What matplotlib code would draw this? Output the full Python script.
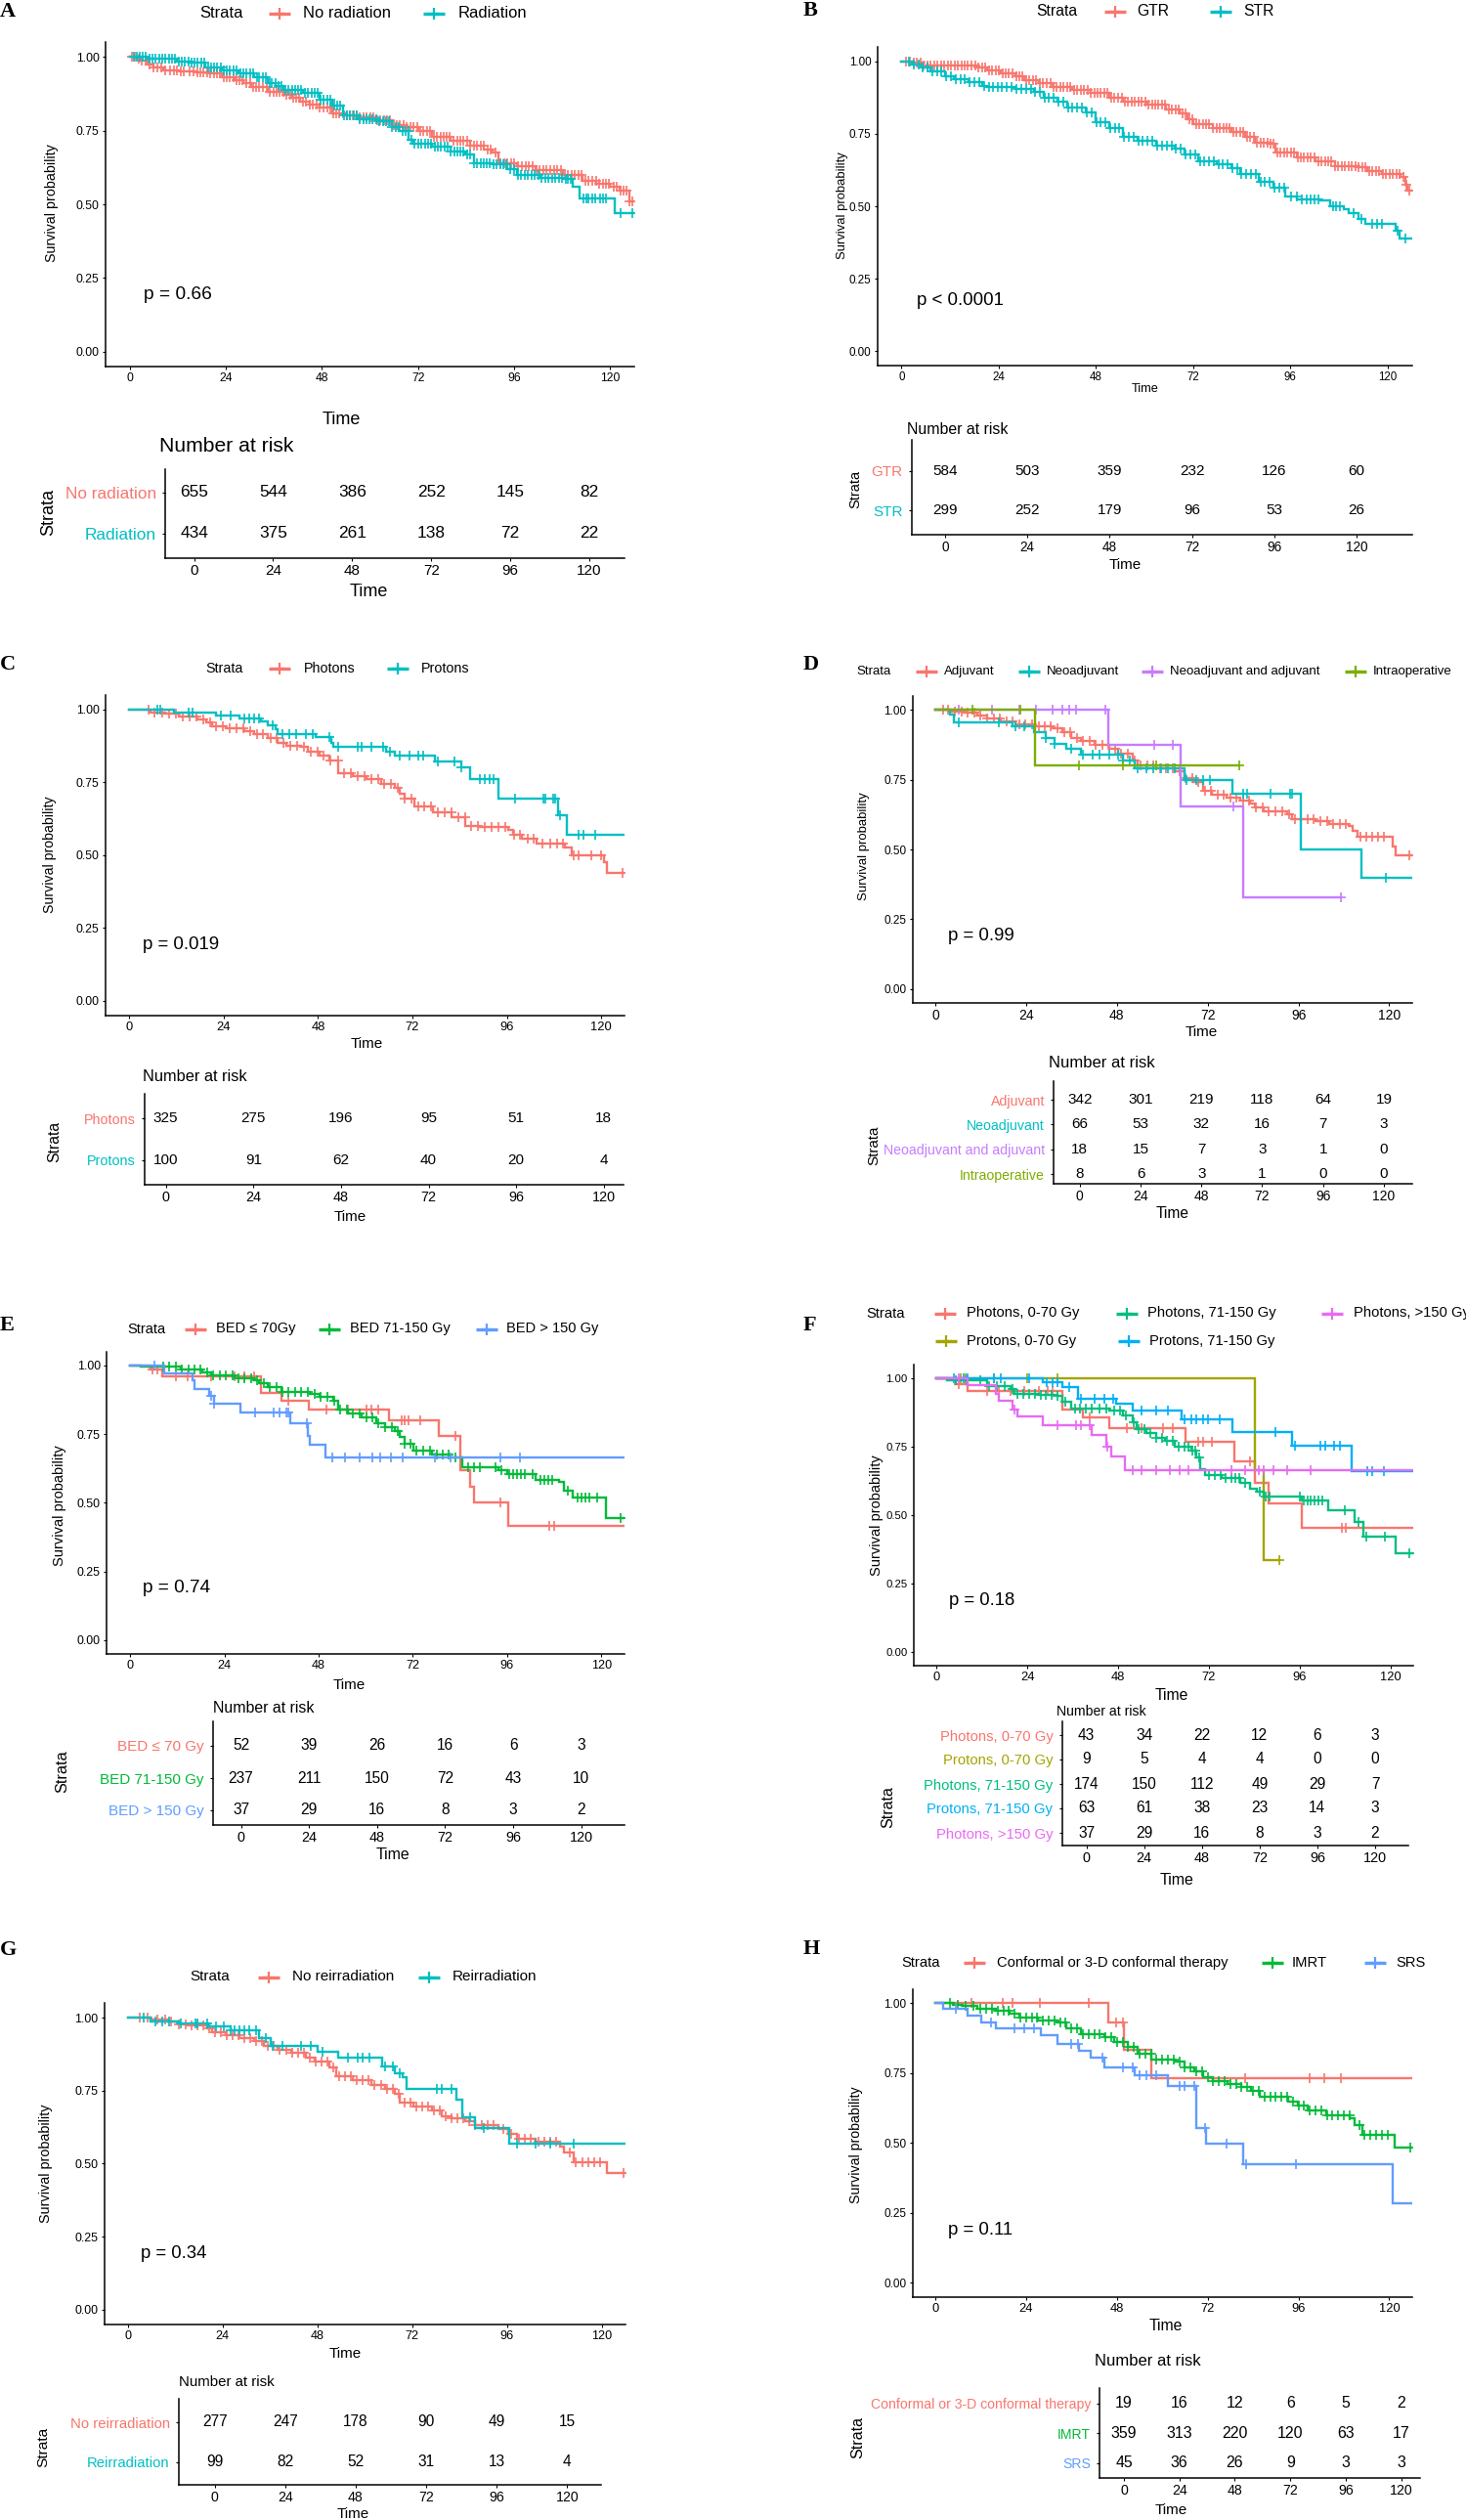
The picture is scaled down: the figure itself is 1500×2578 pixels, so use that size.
import numpy as np
import matplotlib
matplotlib.use('Agg')
import matplotlib.pyplot as plt
from matplotlib.lines import Line2D

plt.rcParams['font.family'] = ['Liberation Sans', 'DejaVu Sans']

# ---------------------------------------------------------------- data
TIME_BREAKS = [0, 24, 48, 72, 96, 120]

# Panel A
A_labels = ['No radiation', 'Radiation']
A_norad_t = [1.5, 2.8, 4.5, 6.0, 8.4, 12.5, 16.6, 19.8, 23.1, 26.3, 28.5, 30.4, 34.5, 38.5, 40.5, 42.6, 45.0, 47.5, 50.7, 54.0,
             57.2, 61.3, 65.4, 68.5, 72.0, 75.5, 80.2, 84.9, 88.5, 90.7, 92.0, 96.6, 101.3, 108.3, 113.0, 116.5, 120.0, 122.4, 124.7]
A_norad_s = [0.993, 0.986, 0.975, 0.965, 0.953, 0.95, 0.948, 0.943, 0.932, 0.92, 0.91, 0.899, 0.882, 0.871, 0.86, 0.849, 0.838, 0.827, 0.807, 0.80,
             0.794, 0.785, 0.77, 0.762, 0.75, 0.73, 0.715, 0.70, 0.685, 0.675, 0.64, 0.63, 0.615, 0.60, 0.58, 0.57, 0.56, 0.545, 0.51]
A_norad_c = [0.5, 1.3, 2.2, 3.0, 3.9, 5.1, 6.0, 7.0, 7.9, 8.8, 10.1, 11.0, 11.9, 12.8, 13.6, 15.0, 15.9, 16.9, 17.6, 18.3,
             19.3, 20.2, 21.0, 21.7, 22.6, 23.5, 24.3, 25.0, 25.9, 26.8, 27.5, 28.2, 29.1, 30.0, 30.8, 31.6, 32.4, 33.3, 34.2, 35.1,
             35.9, 36.6, 37.4, 38.3, 39.1, 40.0, 40.9, 41.7, 42.4, 43.2, 44.1, 45.1, 45.8, 46.6, 47.5, 48.4, 49.3, 50.1, 50.8, 51.5,
             52.4, 53.4, 54.2, 55.0, 55.8, 56.6, 57.5, 58.4, 59.2, 60.0, 60.9, 61.8, 62.6, 63.5, 64.2, 65.0, 65.9, 66.8, 67.5, 68.3,
             69.2, 70.1, 70.9, 71.8, 72.6, 73.4, 74.3, 75.1, 75.9, 76.7, 77.6, 78.5, 79.2, 80.0, 80.9, 81.8, 82.5, 83.3, 84.2, 85.1,
             86.0, 86.8, 87.6, 88.4, 89.3, 90.1, 91.4, 92.6, 93.5, 94.4, 95.2, 96.0, 97.0, 97.9, 98.8, 99.6, 100.6, 101.5, 102.4, 103.2,
             104.1, 105.0, 105.9, 106.7, 107.6, 108.6, 109.4, 110.3, 111.2, 112.0, 112.9, 113.8, 114.6, 115.5, 116.4, 117.2, 118.1, 119.0,
             119.7, 120.8, 121.6, 122.5, 123.2, 124.0, 124.8, 125.5]
A_norad_end = 126
A_rad_t = [4.4, 11.7, 15.0, 19.0, 23.0, 27.1, 31.2, 34.5, 36.5, 38.5, 43.4, 47.5, 50.7, 53.2, 57.2, 62.1, 65.4, 67.3, 69.7, 70.8,
           75.5, 80.2, 83.7, 86.0, 90.7, 94.3, 96.6, 102.5, 108.3, 110.7, 112.4, 121.2]
A_rad_s = [0.995, 0.985, 0.979, 0.965, 0.953, 0.943, 0.932, 0.91, 0.90, 0.887, 0.877, 0.855, 0.833, 0.80, 0.788, 0.781, 0.761, 0.75, 0.72, 0.705,
           0.695, 0.68, 0.67, 0.64, 0.635, 0.62, 0.60, 0.59, 0.585, 0.56, 0.52, 0.47]
A_rad_c = [1.0, 1.8, 2.6, 3.3, 4.0, 4.9, 5.8, 6.5, 7.3, 8.1, 8.9, 9.8, 10.6, 11.4, 12.2, 13.0, 13.8, 14.7, 15.5, 16.2,
           17.0, 17.8, 18.6, 19.5, 20.3, 21.1, 21.9, 22.8, 23.6, 24.3, 25.1, 25.9, 26.7, 27.6, 28.4, 29.2, 30.0, 30.9, 31.7, 32.4,
           33.2, 34.1, 34.9, 35.6, 36.4, 37.2, 38.0, 38.9, 39.7, 40.5, 41.3, 42.1, 42.9, 43.7, 44.5, 45.4, 46.2, 47.0, 47.8, 48.5,
           49.3, 50.2, 51.0, 51.8, 52.6, 53.5, 54.3, 55.1, 55.9, 56.7, 57.5, 58.3, 59.1, 59.9, 60.7, 61.6, 62.4, 63.2, 64.0, 64.8,
           65.6, 66.4, 67.2, 68.1, 68.9, 69.6, 70.3, 71.2, 72.1, 72.9, 73.7, 74.5, 75.3, 76.2, 77.0, 77.8, 78.6, 79.4, 80.2, 81.0,
           81.8, 82.6, 83.4, 84.3, 85.1, 86.0, 86.8, 87.6, 88.4, 89.2, 90.0, 90.9, 91.7, 92.5, 93.3, 94.1, 95.0, 95.9, 96.9, 97.7,
           98.6, 99.4, 100.3, 101.1, 102.0, 102.9, 103.8, 104.6, 105.4, 106.3, 107.1, 108.0, 108.8, 109.5, 110.1, 113.4, 114.0, 114.6,
           115.4, 116.2, 117.5, 118.3, 119.0, 122.7, 125.6]
A_rad_end = 126
A_risk_norad = [655, 544, 386, 252, 145, 82]
A_risk_rad = [434, 375, 261, 138, 72, 22]
A_pval = 'p = 0.66'

# Panel B
B_labels = ['GTR', 'STR']
B_gtr_t = [2.6, 5.0, 18.8, 21.0, 24.6, 28.0, 30.4, 33.9, 37.3, 42.0, 46.6, 51.2, 54.7, 60.5, 65.2, 68.6, 70.5, 72.1, 76.8, 81.4,
           84.9, 87.2, 90.7, 92.4, 97.6, 102.3, 106.9, 112.7, 115.0, 118.5, 123.1, 124.3, 124.9]
B_gtr_s = [0.995, 0.985, 0.98, 0.97, 0.96, 0.95, 0.935, 0.925, 0.91, 0.90, 0.89, 0.875, 0.86, 0.85, 0.835, 0.82, 0.80, 0.785, 0.77, 0.755,
           0.74, 0.72, 0.715, 0.685, 0.67, 0.655, 0.64, 0.635, 0.62, 0.61, 0.60, 0.575, 0.555]
B_gtr_c = [1.2, 2.1, 3.0, 3.8, 4.6, 5.5, 6.4, 7.2, 8.1, 8.9, 9.7, 10.6, 11.5, 12.3, 13.1, 14.0, 14.8, 15.6, 16.4, 17.3,
           18.2, 19.0, 19.9, 20.7, 21.5, 22.4, 23.2, 24.0, 24.9, 25.7, 26.5, 27.4, 28.3, 29.1, 29.9, 30.8, 31.6, 32.5, 33.3, 34.1,
           34.9, 35.8, 36.7, 37.5, 38.3, 39.2, 40.0, 40.8, 41.7, 42.5, 43.3, 44.2, 45.1, 45.9, 46.7, 47.6, 48.4, 49.2, 50.0, 50.9,
           51.8, 52.6, 53.4, 54.3, 55.1, 55.9, 56.8, 57.6, 58.4, 59.3, 60.1, 60.9, 61.8, 62.6, 63.4, 64.3, 65.1, 65.9, 66.8, 67.7,
           68.5, 69.3, 70.1, 71.0, 71.9, 72.7, 73.5, 74.4, 75.2, 76.0, 76.9, 77.7, 78.5, 79.4, 80.2, 81.0, 81.9, 82.7, 83.6, 84.4,
           85.2, 86.0, 86.9, 87.7, 88.6, 89.4, 90.3, 91.1, 91.9, 92.8, 93.6, 94.4, 95.3, 96.1, 96.9, 97.8, 98.6, 99.4, 100.3, 101.1,
           102.0, 102.8, 103.6, 104.5, 105.3, 106.1, 107.0, 107.8, 108.7, 109.5, 110.3, 111.2, 112.0, 112.9, 113.7, 114.5, 115.4, 116.2,
           117.1, 117.9, 118.8, 119.6, 120.5, 121.3, 122.2, 123.0, 123.8, 124.6, 125.4]
B_gtr_end = 126
B_str_t = [2.6, 4.9, 7.2, 10.7, 13.0, 16.5, 20.0, 21.0, 28.0, 32.7, 35.0, 38.5, 40.8, 45.4, 47.8, 51.2, 54.7, 58.2, 62.8, 67.5,
           69.8, 73.3, 77.9, 81.4, 83.7, 88.3, 91.8, 94.7, 97.6, 103.4, 105.7, 109.2, 110.4, 112.7, 114.4, 122.0, 122.9]
B_str_s = [0.99, 0.98, 0.965, 0.95, 0.94, 0.93, 0.915, 0.91, 0.905, 0.895, 0.875, 0.86, 0.84, 0.825, 0.79, 0.77, 0.74, 0.725, 0.71, 0.70,
           0.68, 0.655, 0.645, 0.63, 0.61, 0.585, 0.565, 0.535, 0.525, 0.52, 0.50, 0.49, 0.475, 0.455, 0.44, 0.415, 0.39]
B_str_c = [1.8, 3.0, 4.2, 5.2, 6.3, 7.5, 8.7, 9.8, 10.9, 12.2, 13.4, 14.5, 15.6, 16.8, 17.9, 19.1, 20.4, 21.5, 22.6, 23.7,
           24.8, 26.0, 27.2, 28.4, 29.5, 30.7, 31.9, 33.0, 34.2, 35.3, 36.4, 37.6, 38.8, 40.0, 41.1, 42.2, 43.4, 44.6, 45.8, 46.9,
           48.1, 49.2, 50.3, 51.5, 52.7, 53.8, 55.0, 56.1, 57.3, 58.4, 59.6, 60.7, 61.9, 63.1, 64.3, 65.4, 66.6, 67.7, 68.9, 70.0,
           71.2, 72.4, 73.6, 74.7, 75.8, 77.0, 78.2, 79.3, 80.5, 81.6, 82.8, 83.9, 85.1, 86.3, 87.5, 88.6, 89.7, 90.9, 92.1, 93.2,
           94.4, 96.1, 97.5, 98.9, 100.0, 101.0, 102.0, 102.9, 106.5, 107.3, 108.1, 111.5, 113.6, 116.2, 117.4, 118.6, 122.5, 124.3]
B_str_end = 126
B_risk_gtr = [584, 503, 359, 232, 126, 60]
B_risk_str = [299, 252, 179, 96, 53, 26]
B_pval = 'p < 0.0001'

# Panel C
C_labels = ['Photons', 'Protons']
C_pho_t = [5.4, 9.0, 12.6, 17.3, 19.7, 21.0, 24.5, 29.3, 31.7, 35.3, 37.7, 40.0, 43.7, 45.5, 48.5, 50.8, 53.2, 56.8, 60.4, 64.0,
           67.6, 68.8, 70.0, 72.4, 77.2, 82.0, 85.5, 89.1, 96.3, 97.5, 99.9, 103.5, 110.7, 112.5, 120.8, 121.4]
C_pho_s = [0.99, 0.985, 0.975, 0.965, 0.955, 0.94, 0.935, 0.925, 0.915, 0.90, 0.885, 0.875, 0.87, 0.855, 0.84, 0.825, 0.78, 0.77, 0.76, 0.745,
           0.73, 0.71, 0.695, 0.665, 0.645, 0.63, 0.60, 0.595, 0.585, 0.57, 0.555, 0.54, 0.525, 0.50, 0.475, 0.44]
C_pho_c = [5.0, 6.5, 8.4, 10.1, 11.9, 13.5, 15.4, 17.0, 18.8, 20.5, 22.1, 23.9, 25.6, 27.3, 29.0, 30.8, 32.5, 34.1, 35.9, 37.5,
           39.3, 41.0, 42.7, 44.4, 46.1, 47.9, 49.5, 51.2, 53.0, 54.7, 56.4, 58.1, 59.8, 61.5, 63.2, 64.9, 66.6, 68.3, 70.0, 71.7,
           73.4, 75.1, 76.8, 78.5, 80.2, 81.9, 83.6, 85.3, 87.0, 88.7, 90.4, 92.1, 93.8, 95.5, 97.9, 99.4, 101.2, 102.9, 105.1, 107.0,
           108.8, 110.3, 113.0, 114.2, 117.5, 120.0, 125.5]
C_pho_end = 126
C_pro_t = [11.4, 22.1, 28.1, 33.5, 35.3, 37.1, 37.7, 47.3, 51.4, 52.0, 65.2, 67.6, 77.8, 84.3, 86.7, 93.9, 108.9, 111.3]
C_pro_s = [0.99, 0.98, 0.97, 0.96, 0.945, 0.93, 0.915, 0.905, 0.885, 0.87, 0.855, 0.84, 0.82, 0.80, 0.76, 0.695, 0.635, 0.57]
C_pro_c = [7.2, 7.8, 15.0, 16.2, 23.3, 25.7, 29.3, 30.5, 31.7, 32.9, 36.5, 38.9, 40.7, 42.5, 44.9, 46.7, 50.8, 53.2, 58.0, 59.2,
           61.6, 64.6, 66.4, 68.8, 71.2, 73.6, 74.8, 78.4, 82.6, 84.3, 89.1, 90.3, 91.5, 92.7, 98.1, 105.3, 105.9, 107.7, 108.3, 109.5,
           114.3, 115.5, 118.5]
C_pro_end = 126
C_risk_pho = [325, 275, 196, 95, 51, 18]
C_risk_pro = [100, 91, 62, 40, 20, 4]
C_pval = 'p = 0.019'

# Panel D
D_labels = ['Adjuvant', 'Neoadjuvant', 'Neoadjuvant and adjuvant', 'Intraoperative']
D_adj_t = [3.7, 7.4, 11.2, 13.7, 17.4, 21.1, 26.1, 31.0, 33.5, 36.0, 38.5, 42.2, 45.9, 48.4, 52.1, 53.4, 58.3, 63.3, 65.8, 68.3,
           70.7, 73.2, 77.0, 80.7, 83.1, 84.4, 86.9, 93.1, 94.3, 100.5, 104.2, 109.2, 110.4, 111.7, 121.0, 121.6]
D_adj_s = [0.995, 0.99, 0.98, 0.97, 0.96, 0.95, 0.94, 0.935, 0.92, 0.90, 0.89, 0.875, 0.86, 0.845, 0.82, 0.80, 0.79, 0.78, 0.755, 0.74,
           0.71, 0.695, 0.685, 0.675, 0.665, 0.65, 0.635, 0.625, 0.61, 0.60, 0.59, 0.585, 0.565, 0.545, 0.51, 0.48]
D_adj_c = [2.0, 3.5, 5.3, 7.0, 8.6, 10.3, 12.0, 13.8, 15.4, 17.1, 18.8, 20.5, 22.2, 23.9, 25.6, 27.3, 29.0, 30.6, 32.4, 34.0,
           35.7, 37.4, 39.1, 40.8, 42.5, 44.2, 45.8, 47.6, 49.2, 50.9, 52.6, 54.3, 56.0, 57.7, 59.4, 61.1, 62.8, 64.5, 66.2, 67.9,
           69.5, 71.2, 72.9, 74.6, 76.3, 78.0, 79.7, 81.4, 83.0, 84.8, 86.5, 88.2, 89.9, 91.6, 93.5, 95.0, 96.7, 98.5, 100.0, 101.8,
           103.5, 105.2, 106.9, 108.4, 112.5, 114.0, 115.5, 117.0, 118.5, 125.2]
D_adj_end = 126
D_neo_t = [4.0, 5.0, 20.5, 26.1, 29.2, 31.6, 34.7, 38.5, 49.6, 52.7, 65.8, 78.6, 96.6, 112.7]
D_neo_s = [0.985, 0.955, 0.94, 0.92, 0.90, 0.88, 0.86, 0.84, 0.82, 0.79, 0.75, 0.70, 0.50, 0.40]
D_neo_c = [6.2, 16.8, 21.1, 23.6, 29.2, 31.6, 36.0, 39.1, 41.6, 43.4, 45.9, 48.4, 49.6, 51.5, 53.4, 55.8, 57.7, 59.6, 61.4, 63.3,
           66.4, 68.9, 70.7, 72.6, 81.3, 82.5, 88.7, 93.7, 94.3, 119.1]
D_neo_end = 126
D_na_t = [45.7, 64.8, 81.3]
D_na_s = [0.875, 0.655, 0.33]
D_na_c = [6.2, 14.9, 22.3, 26.7, 31.0, 33.5, 35.4, 37.2, 45.0, 58.0, 62.7, 78.8, 107.1]
D_na_end = 107.1
D_io_t = [26.3]
D_io_s = [0.80]
D_io_c = [9.9, 22.6, 37.9, 49.6, 58.3, 80.4]
D_io_end = 80.4
D_risk = [[342, 301, 219, 118, 64, 19],
          [66, 53, 32, 16, 7, 3],
          [18, 15, 7, 3, 1, 0],
          [8, 6, 3, 1, 0, 0]]
D_pval = 'p = 0.99'

# Panel E
E_legend = ['BED \u2264 70Gy', 'BED 71-150 Gy', 'BED > 150 Gy']
E_labels = ['BED \u2264 70 Gy', 'BED 71-150 Gy', 'BED > 150 Gy']
E_low_t = [5.1, 8.1, 33.3, 38.6, 45.6, 65.8, 78.5, 84.1, 86.5, 87.5, 96.4]
E_low_s = [0.985, 0.96, 0.90, 0.87, 0.84, 0.80, 0.745, 0.62, 0.56, 0.50, 0.415]
E_low_c = [5.7, 6.9, 11.7, 14.7, 20.7, 26.7, 29.1, 31.5, 40.4, 50.0, 55.4, 60.2, 61.4, 63.2, 69.2, 69.8, 70.9, 73.9, 82.9, 94.3,
           106.8, 108.0]
E_low_end = 126
E_mid_t = [2.8, 12.9, 18.3, 20.7, 26.7, 31.5, 32.7, 35.0, 38.6, 45.8, 48.2, 51.8, 53.0, 55.4, 59.0, 62.6, 65.0, 67.4, 68.6, 69.8,
           72.1, 76.9, 81.7, 84.7, 93.7, 96.1, 103.3, 109.2, 110.4, 112.8, 121.2]
E_mid_s = [0.995, 0.985, 0.975, 0.965, 0.955, 0.945, 0.935, 0.92, 0.905, 0.895, 0.885, 0.87, 0.84, 0.825, 0.81, 0.79, 0.775, 0.76, 0.74, 0.715,
           0.69, 0.675, 0.665, 0.63, 0.62, 0.605, 0.585, 0.575, 0.545, 0.52, 0.445]
E_mid_c = [8.5, 10.0, 11.6, 13.2, 14.8, 16.4, 18.0, 19.6, 21.2, 22.8, 24.4, 26.0, 27.6, 29.2, 30.8, 32.4, 34.0, 35.6, 37.2, 38.8,
           40.4, 42.0, 43.6, 45.2, 47.0, 48.6, 50.3, 52.0, 53.6, 55.2, 56.8, 58.5, 60.1, 61.7, 63.3, 65.0, 66.6, 68.2, 69.8, 71.5,
           73.0, 74.7, 76.3, 78.0, 79.6, 81.2, 82.8, 86.0, 87.5, 89.0, 93.0, 94.5, 96.5, 97.5, 98.5, 99.5, 100.5, 102.5, 104.5, 105.5,
           106.5, 107.5, 111.5, 114.0, 115.0, 116.0, 117.0, 119.0, 125.0]
E_mid_end = 126
E_high_t = [8.7, 15.9, 16.5, 20.1, 21.3, 28.2, 40.8, 45.2, 45.8, 49.7]
E_high_s = [0.97, 0.945, 0.915, 0.89, 0.86, 0.83, 0.79, 0.745, 0.71, 0.665]
E_high_c = [6.3, 20.7, 21.3, 31.8, 36.6, 38.0, 39.8, 40.4, 45.0, 51.6, 54.6, 58.4, 61.7, 63.8, 66.5, 69.4, 77.5, 81.7, 94.3, 99.3]
E_high_end = 126
E_risk = [[52, 39, 26, 16, 6, 3],
          [237, 211, 150, 72, 43, 10],
          [37, 29, 16, 8, 3, 2]]
E_pval = 'p = 0.74'

# Panel F
F_labels = ['Photons, 0-70 Gy', 'Protons, 0-70 Gy', 'Photons, 71-150 Gy', 'Protons, 71-150 Gy', 'Photons, >150 Gy']
F_ph1_t = [5.2, 8.3, 33.2, 38.8, 45.6, 65.8, 78.8, 84.1, 87.8, 96.5]
F_ph1_s = [0.977, 0.955, 0.887, 0.857, 0.819, 0.767, 0.698, 0.619, 0.544, 0.452]
F_ph1_c = [5.8, 13.3, 16.4, 19.5, 23.2, 27.0, 29.4, 30.7, 40.6, 50.2, 54.3, 59.9, 62.4, 69.2, 70.4, 72.9, 82.9, 107.1, 108.3]
F_ph1_end = 126
F_pr1_t = [84.1, 86.6]
F_pr1_s = [0.665, 0.335]
F_pr1_c = [6.5, 7.7, 15.2, 23.9, 31.9, 90.7]
F_pr1_end = 90.7
F_ph2_t = [2.7, 13.3, 19.5, 20.7, 27.0, 32.0, 33.2, 35.7, 45.6, 49.3, 51.8, 53.0, 55.5, 58.0, 60.5, 63.0, 67.3, 68.6, 69.8, 71.1,
           75.4, 80.4, 82.9, 84.7, 86.6, 96.5, 103.4, 110.4, 112.7, 121.4]
F_ph2_s = [0.994, 0.97, 0.959, 0.944, 0.94, 0.934, 0.914, 0.891, 0.881, 0.866, 0.841, 0.816, 0.80, 0.781, 0.77, 0.751, 0.736, 0.71, 0.669, 0.645,
           0.634, 0.619, 0.597, 0.585, 0.569, 0.554, 0.518, 0.476, 0.423, 0.36]
F_ph2_c = [5.0, 8.0, 11.5, 14.0, 16.0, 18.0, 20.0, 21.5, 23.0, 24.5, 26.0, 27.5, 29.0, 30.5, 32.0, 34.0, 36.5, 38.0, 39.5, 41.0,
           43.0, 45.0, 47.0, 48.5, 50.0, 52.0, 53.5, 55.0, 56.5, 58.0, 59.5, 61.0, 62.5, 64.0, 65.5, 66.5, 67.5, 68.5, 69.3, 72.0,
           73.5, 75.0, 76.5, 78.0, 79.0, 80.0, 81.5, 85.5, 87.0, 88.0, 96.0, 97.0, 98.0, 99.0, 100.0, 101.0, 102.0, 108.0, 111.5, 113.5,
           118.5, 125.0]
F_ph2_end = 126
F_pr2_t = [28.2, 33.2, 37.5, 47.5, 51.8, 64.8, 78.1, 94.0, 109.6]
F_pr2_s = [0.985, 0.967, 0.926, 0.906, 0.881, 0.85, 0.805, 0.755, 0.66]
F_pr2_c = [4.6, 7.1, 8.3, 15.2, 17.0, 24.5, 29.2, 30.7, 31.9, 35.0, 38.1, 41.9, 44.3, 46.8, 54.3, 58.0, 61.1, 65.5, 67.3, 68.6,
           70.4, 71.7, 74.8, 89.7, 94.7, 101.5, 102.7, 105.2, 106.5, 113.9, 115.2, 118.3]
F_pr2_end = 126
F_ph3_t = [8.3, 15.8, 16.4, 20.1, 21.4, 28.2, 41.0, 45.0, 46.2, 49.7]
F_ph3_s = [0.974, 0.944, 0.918, 0.887, 0.861, 0.828, 0.793, 0.751, 0.713, 0.665]
F_ph3_c = [5.8, 20.7, 31.9, 36.9, 38.1, 40.6, 45.1, 51.8, 54.3, 58.0, 61.7, 64.2, 66.7, 77.9, 81.6, 85.3, 86.6, 89.1, 92.8, 99.0]
F_ph3_end = 126
F_risk = [[43, 34, 22, 12, 6, 3],
          [9, 5, 4, 4, 0, 0],
          [174, 150, 112, 49, 29, 7],
          [63, 61, 38, 23, 14, 3],
          [37, 29, 16, 8, 3, 2]]
F_pval = 'p = 0.18'

# Panel G
G_labels = ['No reirradiation', 'Reirradiation']
G_no_t = [5.7, 10.5, 12.9, 15.2, 20.0, 21.2, 24.8, 28.3, 32.0, 34.3, 37.9, 41.4, 45.0, 47.4, 51.0, 52.7, 56.9, 61.7, 65.2, 67.6,
          68.8, 72.4, 77.1, 79.5, 81.9, 85.5, 87.9, 93.8, 96.2, 98.6, 103.3, 109.3, 110.5, 112.9, 121.2]
G_no_s = [0.995, 0.988, 0.978, 0.974, 0.965, 0.95, 0.941, 0.93, 0.92, 0.904, 0.891, 0.88, 0.865, 0.85, 0.83, 0.80, 0.786, 0.77, 0.755, 0.74,
          0.709, 0.695, 0.682, 0.664, 0.655, 0.646, 0.631, 0.62, 0.601, 0.585, 0.574, 0.559, 0.54, 0.504, 0.469]
G_no_c = [3.0, 5.0, 7.5, 9.5, 11.0, 13.0, 14.5, 16.0, 17.5, 19.0, 20.5, 22.0, 23.5, 25.0, 26.5, 28.0, 29.5, 31.0, 32.5, 34.0,
          35.5, 37.0, 38.5, 40.0, 41.5, 43.0, 44.5, 46.0, 47.5, 49.0, 50.5, 52.0, 53.5, 55.0, 56.5, 58.0, 59.5, 61.0, 62.5, 64.0,
          65.5, 67.0, 68.5, 70.0, 71.5, 73.0, 74.5, 76.0, 77.5, 79.0, 80.5, 82.0, 83.5, 85.0, 86.5, 88.0, 89.5, 91.0, 92.5, 95.0,
          97.0, 99.0, 100.5, 102.0, 104.0, 105.5, 107.0, 108.5, 112.0, 113.5, 115.0, 116.5, 118.0, 119.5, 125.5]
G_no_end = 126
G_re_t = [5.7, 12.9, 20.6, 26.0, 33.1, 36.1, 48.0, 53.3, 64.3, 67.6, 69.6, 70.6, 83.1, 84.6, 87.9, 96.5]
G_re_s = [0.989, 0.981, 0.972, 0.957, 0.93, 0.904, 0.884, 0.865, 0.834, 0.81, 0.795, 0.755, 0.72, 0.66, 0.621, 0.57]
G_re_c = [3.9, 6.9, 8.7, 10.5, 13.5, 17.0, 17.6, 20.0, 22.4, 24.2, 26.0, 27.1, 28.3, 29.5, 30.7, 32.5, 34.9, 36.7, 39.0, 43.8,
          46.2, 49.2, 55.7, 58.1, 59.3, 61.1, 65.2, 67.0, 68.8, 78.3, 79.5, 81.9, 86.7, 90.2, 98.6, 103.3, 106.9, 112.9]
G_re_end = 126
G_risk_no = [277, 247, 178, 90, 49, 15]
G_risk_re = [99, 82, 52, 31, 13, 4]
G_pval = 'p = 0.34'

# Panel H
H_labels = ['Conformal or 3-D conformal therapy', 'IMRT', 'SRS']
H_conf_t = [45.7, 50.0, 57.0]
H_conf_s = [0.93, 0.835, 0.732]
H_conf_c = [9.7, 17.9, 20.4, 27.6, 40.7, 47.8, 49.7, 81.9, 99.0, 102.8, 107.1]
H_conf_end = 126
H_imrt_t = [4.7, 7.2, 11.0, 16.0, 19.7, 22.2, 27.2, 32.2, 34.7, 38.5, 44.7, 47.2, 50.9, 53.4, 57.2, 63.4, 65.9, 68.4, 70.9, 73.4,
            77.2, 80.9, 83.4, 85.9, 93.4, 95.9, 98.4, 103.4, 109.6, 110.9, 112.8, 121.5]
H_imrt_s = [0.995, 0.99, 0.98, 0.972, 0.961, 0.949, 0.939, 0.93, 0.91, 0.89, 0.88, 0.861, 0.845, 0.82, 0.80, 0.79, 0.77, 0.755, 0.735, 0.72,
            0.71, 0.70, 0.685, 0.665, 0.649, 0.635, 0.615, 0.60, 0.59, 0.565, 0.53, 0.485]
H_imrt_c = [4.0, 6.0, 8.0, 10.0, 12.0, 13.5, 15.0, 16.5, 18.0, 19.5, 21.0, 22.5, 24.0, 25.5, 27.0, 28.5, 30.0, 31.5, 33.0, 34.5,
            36.0, 37.5, 39.0, 40.5, 42.0, 43.5, 45.0, 46.5, 48.0, 49.5, 51.0, 52.5, 54.0, 55.5, 57.0, 58.5, 60.0, 61.5, 63.0, 64.5,
            66.0, 67.5, 69.0, 70.5, 72.0, 73.5, 75.0, 76.5, 78.0, 79.5, 81.0, 82.5, 84.0, 85.5, 87.0, 88.5, 90.0, 91.5, 93.0, 94.5,
            96.0, 97.5, 99.0, 100.5, 102.0, 103.5, 105.0, 106.5, 108.0, 109.5, 112.0, 113.5, 115.0, 116.5, 118.0, 119.5, 125.5]
H_imrt_end = 126
H_srs_t = [2.0, 8.5, 12.2, 16.0, 27.8, 32.2, 38.1, 41.0, 44.7, 52.8, 61.6, 69.1, 71.6, 81.5, 120.9]
H_srs_s = [0.98, 0.955, 0.931, 0.91, 0.885, 0.856, 0.831, 0.804, 0.772, 0.741, 0.704, 0.554, 0.497, 0.425, 0.285]
H_srs_c = [5.4, 14.7, 21.0, 23.5, 26.0, 36.0, 37.8, 44.1, 49.7, 52.2, 54.1, 55.9, 58.4, 64.7, 65.9, 68.4, 71.3, 76.9, 82.2, 95.3]
H_srs_end = 126
H_risk = [[19, 16, 12, 6, 5, 2],
          [359, 313, 220, 120, 63, 17],
          [45, 36, 26, 9, 3, 3]]
H_pval = 'p = 0.11'

# ---------------------------------------------------------------- style / layout
RED, TEAL = '#F8766D', '#00BFC4'
COLORS = {
    'A': [RED, TEAL], 'B': [RED, TEAL], 'C': [RED, TEAL], 'G': [RED, TEAL],
    'D': [RED, TEAL, '#C77CFF', '#7CAE00'],
    'E': [RED, '#00BA38', '#619CFF'], 'H': [RED, '#00BA38', '#619CFF'],
    'F': [RED, '#A3A500', '#00BF7D', '#00B0F6', '#E76BF3'],
}


def FS(ytick, xtick, surv, time, pval, leg, nar, num, row, strata, ttick, ttime):
    return dict(ytick=ytick, xtick=xtick, surv=surv, time=time, pval=pval, leg=leg,
                nar=nar, num=num, row=row, strata=strata, ttick=ttick, ttime=ttime)


LAYOUT = {
    'A': dict(plot=(108, 43, 649, 375), letter=(0, 12), strata_leg=(204, 14),
              keys=[(275, 310, 14), (433, 469, 14)], surv=(53, 208), time=(349, 429), pval=(147, 302),
              nar=(163, 457), table=(169, 480, 639, 571, 198.6, 603, 504, 546), strata=(50, 524), ttime=(377, 605),
              fs=FS(8.7, 8.7, 10.3, 13, 13.8, 11.9, 15.2, 12.4, 12.4, 13, 11, 13)),
    'B': dict(plot=(897.6, 48, 1444.7, 374), letter=(822, 11), strata_leg=(1060, 12),
              keys=[(1130, 1163, 12), (1238, 1272, 12)], surv=(861.5, 210), time=(1172, 398), pval=(937.5, 308),
              nar=(928, 439), table=(932.7, 450, 1444.7, 546.5, 966.8, 1388, 481.5, 522), strata=(875, 500), ttime=(1151, 578),
              fs=FS(8.4, 8.3, 9.4, 9.2, 13.4, 11.3, 11.4, 11, 11, 10.5, 9.8, 10.9)),
    'C': dict(plot=(108, 710.7, 639.4, 1038.6), letter=(0, 680), strata_leg=(210, 683.7),
              keys=[(275, 311, 683.7), (396, 431, 683.7)], surv=(51.4, 874.5), time=(375, 1068), pval=(145.7, 966.7),
              nar=(145.7, 1101), table=(148, 1119, 638, 1212, 169.7, 617.8, 1144, 1187), strata=(56, 1168), ttime=(358, 1245),
              fs=FS(8.7, 9.3, 10.2, 11, 13.4, 10.3, 11.8, 11, 10.4, 11.3, 10.4, 10.9)),
    'D': dict(plot=(933.7, 712, 1444.7, 1026), letter=(822, 680), strata_leg=(876, 686.5),
              keys=[(936.5, 966, 686.5), (1042, 1071, 686.5), (1168, 1197, 686.5), (1376, 1405, 686.5)],
              surv=(883.7, 866), time=(1229.5, 1056), pval=(969.7, 958),
              nar=(1073, 1087), table=(1078, 1106, 1444.7, 1211, 1104.8, 1415.9, 1125, 1201), strata=(894, 1172), ttime=(1199.5, 1242),
              fs=FS(8.5, 10, 9.5, 11, 13.4, 9.5, 12, 11, 10.2, 10.9, 10, 11.2)),
    'E': dict(plot=(109, 1382.8, 639.4, 1692), letter=(0, 1356), strata_leg=(130, 1359.5),
              keys=[(189, 221, 1359.5), (326, 358, 1359.5), (487, 518, 1359.5)],
              surv=(61, 1540), time=(357, 1724), pval=(145.7, 1624.8),
              nar=(218, 1747.4), table=(218, 1761, 639.4, 1866.7, 246.6, 594.7, 1786, 1852), strata=(64, 1812), ttime=(402, 1897.6),
              fs=FS(8.9, 9.1, 10.5, 11, 13.7, 10.5, 11.4, 11.2, 11, 11.8, 10.4, 11.4)),
    'F': dict(plot=(935, 1396, 1446, 1704), letter=(822, 1356), strata_leg=(886, 1343.5),
              keys=[(956, 989, 1343.5), (956.7, 989, 1372), (1142, 1174.5, 1343.5), (1144, 1176.5, 1372), (1352, 1384.6, 1343.5)],
              surv=(896.6, 1550), time=(1198.5, 1734.8), pval=(971, 1637.5),
              nar=(1080.8, 1751), table=(1086.5, 1761, 1441, 1888, 1111.5, 1407, 1775, 1875), strata=(908.7, 1849), ttime=(1204, 1923),
              fs=FS(8.2, 9.3, 10.5, 11.3, 13.3, 10.6, 10.1, 11.2, 10.7, 11.5, 10.4, 11.5)),
    'G': dict(plot=(106.7, 2049.4, 640, 2377.5), letter=(0, 1995), strata_leg=(194, 2022.5),
              keys=[(264, 299, 2022.5), (428, 462.5, 2022.5)], surv=(46.6, 2213.7), time=(353, 2408), pval=(144, 2305.5),
              nar=(183, 2437), table=(182.7, 2454.4, 615.4, 2541.8, 219.7, 580.3, 2478, 2518.8), strata=(44, 2503.6), ttime=(361.5, 2572),
              fs=FS(8.9, 9.1, 10.4, 10.9, 13.3, 11, 10.85, 11.2, 10.7, 11.1, 10.2, 10.9)),
    'H': dict(plot=(933.7, 2035, 1444.7, 2349.8), letter=(822, 1994), strata_leg=(922, 2007.6),
              keys=[(985.6, 1020, 2007.6), (1291, 1322, 2007.6), (1395.7, 1428, 2007.6)],
              surv=(876.4, 2194), time=(1193, 2379.6), pval=(969.7, 2281),
              nar=(1120, 2416), table=(1125, 2443, 1453, 2534.6, 1150, 1433.7, 2458.5, 2519.7), strata=(877.4, 2493.5), ttime=(1198, 2568),
              fs=FS(8.5, 9.3, 10.2, 11.3, 13.4, 10.6, 12, 11.4, 10.1, 11.6, 10.2, 11)),
}

W, H = 1500, 2578
fig = plt.figure(figsize=(15, 25.78), dpi=100)
fig.patch.set_facecolor('white')


def fx(x):
    return x / W


def fy(y):
    return 1 - y / H


def ftext(x, y, s, **kw):
    fig.text(fx(x), fy(y), s, **kw)


def surv_at(t, s, c):
    t = np.asarray(t, float)
    s = np.asarray(s, float)
    idx = np.searchsorted(t, np.asarray(c, float), side='right') - 1
    return np.where(idx >= 0, s[np.clip(idx, 0, None)], 1.0)


def style_axes(ax, fs_x, fs_y):
    for sp in ['top', 'right']:
        ax.spines[sp].set_visible(False)
    for sp in ['left', 'bottom']:
        ax.spines[sp].set_linewidth(1.1)
        ax.spines[sp].set_color('black')
    ax.tick_params(axis='x', length=2.5, width=0.8, labelsize=fs_x, pad=2, colors='black')
    ax.tick_params(axis='y', length=2.5, width=0.8, labelsize=fs_y, pad=2, colors='black')
    ax.set_facecolor('none')


def draw_panel(key, labels, curves, risk, pval, legend_labels=None):
    L = LAYOUT[key]
    fs = L['fs']
    cols = COLORS[key]
    legend_labels = legend_labels or labels

    # panel letter
    ftext(L['letter'][0], L['letter'][1], key, ha='left', va='center', fontsize=16,
          fontweight='bold', family=['Liberation Serif', 'DejaVu Serif'])

    # legend
    ftext(L['strata_leg'][0], L['strata_leg'][1], 'Strata', ha='left', va='center', fontsize=fs['leg'])
    for (kx, tx, ky), lab, col in zip(L['keys'], legend_labels, cols):
        fig.add_artist(Line2D([fx(kx), fx(kx + 22)], [fy(ky), fy(ky)], transform=fig.transFigure,
                              color=col, lw=2.4, solid_capstyle='butt'))
        fig.add_artist(Line2D([fx(kx + 11)], [fy(ky)], transform=fig.transFigure, color=col,
                              marker='+', ms=8, mew=1.6, ls='none'))
        ftext(tx, ky, lab, ha='left', va='center', fontsize=fs['leg'])

    # survival plot
    x0, y0, x1, y1 = L['plot']
    ax = fig.add_axes([fx(x0), fy(y1), (x1 - x0) / W, (y1 - y0) / H])
    ax.set_xlim(-6, 126)
    ax.set_ylim(-0.05, 1.05)
    style_axes(ax, fs['xtick'], fs['ytick'])
    ax.set_xticks(TIME_BREAKS)
    ax.set_yticks([0, 0.25, 0.5, 0.75, 1.0])
    ax.set_yticklabels(['0.00', '0.25', '0.50', '0.75', '1.00'])
    for (t, s, end, cens), col in zip(curves, cols):
        xs = [0] + list(t) + [end]
        ys = [1.0] + list(s) + [s[-1]]
        ax.step(xs, ys, where='post', color=col, lw=1.7, solid_joinstyle='miter')
        ax.plot(cens, surv_at(t, s, cens), ls='none', marker='+', ms=6.5, mew=1.2, color=col)

    ftext(L['surv'][0], L['surv'][1], 'Survival probability', rotation=90, ha='center', va='center',
          fontsize=fs['surv'])
    ftext(L['time'][0], L['time'][1], 'Time', ha='center', va='center', fontsize=fs['time'])
    ftext(L['pval'][0], L['pval'][1], pval, ha='left', va='center', fontsize=fs['pval'])

    # risk table
    tx0, ty0, tx1, ty1, c0, c120, r0, rN = L['table']
    ppm = (c120 - c0) / 120.0
    n = len(risk)
    sp = (rN - r0) / (n - 1)
    tax = fig.add_axes([fx(tx0), fy(ty1), (tx1 - tx0) / W, (ty1 - ty0) / H])
    tax.set_xlim((tx0 - c0) / ppm, (tx1 - c0) / ppm)
    tax.set_ylim((ty1 - r0) / sp, (ty0 - r0) / sp)
    style_axes(tax, fs['ttick'], fs['row'])
    tax.tick_params(axis='y', pad=4)
    tax.set_xticks(TIME_BREAKS)
    tax.set_yticks(range(n))
    tax.set_yticklabels(labels)
    for lbl, col in zip(tax.get_yticklabels(), cols):
        lbl.set_color(col)
    for i, row in enumerate(risk):
        for tb, v in zip(TIME_BREAKS, row):
            tax.text(tb, i, str(v), ha='center', va='center', fontsize=fs['num'], color='black')

    ftext(L['nar'][0], L['nar'][1], 'Number at risk', ha='left', va='center', fontsize=fs['nar'])
    ftext(L['strata'][0], L['strata'][1], 'Strata', rotation=90, ha='center', va='center', fontsize=fs['strata'])
    ftext(L['ttime'][0], L['ttime'][1], 'Time', ha='center', va='center', fontsize=fs['ttime'])


draw_panel('A', A_labels,
           [(A_norad_t, A_norad_s, A_norad_end, A_norad_c), (A_rad_t, A_rad_s, A_rad_end, A_rad_c)],
           [A_risk_norad, A_risk_rad], A_pval)
draw_panel('B', B_labels,
           [(B_gtr_t, B_gtr_s, B_gtr_end, B_gtr_c), (B_str_t, B_str_s, B_str_end, B_str_c)],
           [B_risk_gtr, B_risk_str], B_pval)
draw_panel('C', C_labels,
           [(C_pho_t, C_pho_s, C_pho_end, C_pho_c), (C_pro_t, C_pro_s, C_pro_end, C_pro_c)],
           [C_risk_pho, C_risk_pro], C_pval)
draw_panel('D', D_labels,
           [(D_adj_t, D_adj_s, D_adj_end, D_adj_c), (D_neo_t, D_neo_s, D_neo_end, D_neo_c),
            (D_na_t, D_na_s, D_na_end, D_na_c), (D_io_t, D_io_s, D_io_end, D_io_c)],
           D_risk, D_pval)
draw_panel('E', E_labels,
           [(E_low_t, E_low_s, E_low_end, E_low_c), (E_mid_t, E_mid_s, E_mid_end, E_mid_c),
            (E_high_t, E_high_s, E_high_end, E_high_c)],
           E_risk, E_pval, legend_labels=E_legend)
draw_panel('F', F_labels,
           [(F_ph1_t, F_ph1_s, F_ph1_end, F_ph1_c), (F_pr1_t, F_pr1_s, F_pr1_end, F_pr1_c),
            (F_ph2_t, F_ph2_s, F_ph2_end, F_ph2_c), (F_pr2_t, F_pr2_s, F_pr2_end, F_pr2_c),
            (F_ph3_t, F_ph3_s, F_ph3_end, F_ph3_c)],
           F_risk, F_pval)
draw_panel('G', G_labels,
           [(G_no_t, G_no_s, G_no_end, G_no_c), (G_re_t, G_re_s, G_re_end, G_re_c)],
           [G_risk_no, G_risk_re], G_pval)
draw_panel('H', H_labels,
           [(H_conf_t, H_conf_s, H_conf_end, H_conf_c), (H_imrt_t, H_imrt_s, H_imrt_end, H_imrt_c),
            (H_srs_t, H_srs_s, H_srs_end, H_srs_c)],
           H_risk, H_pval)

fig.savefig('out.png', dpi=100, facecolor='white')
